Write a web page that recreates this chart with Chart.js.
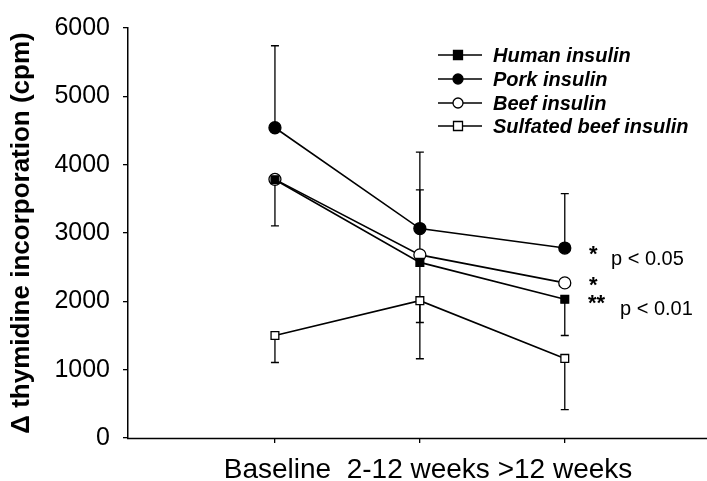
<!DOCTYPE html>
<html>
<head>
<meta charset="utf-8">
<script src="https://cdn.jsdelivr.net/npm/chart.js@4.4.1/dist/chart.umd.min.js"></script>
<style>
  html, body { margin: 0; padding: 0; background: #fff; overflow: hidden; }
  #wrap { width: 707px; height: 481px; position: relative; }
</style>
</head>
<body>
<div id="wrap"><canvas id="chart"></canvas></div>
<script>
// periods on the x axis (linear positions 1..3)
const periods = ["Baseline", "2-12 weeks", ">12 weeks"];
const periodX = [1, 2, 3];
const yTicks = [0, 1000, 2000, 3000, 4000, 5000, 6000];

const seriesNames = ["Human insulin", "Pork insulin", "Beef insulin", "Sulfated beef insulin"];
const human = [3780, 2570, 2030];
const pork = [4540, 3065, 2780];
const beef = [3785, 2680, 2270];
const sulfated = [1500, 2010, 1165];

// error bar lengths (up / down)
const humanErrUp = [0, 0, 0];
const humanErrDown = [0, 1410, 530];
const porkErrUp = [1200, 1120, 795];
const porkErrDown = [0, 0, 0];
const beefErrUp = [0, 950, 0];
const beefErrDown = [680, 0, 0];
const sulfErrUp = [0, 0, 0];
const sulfErrDown = [395, 320, 750];

const FONT = "'Liberation Sans', Arial, sans-serif";

function toPoints(vals) {
    return vals.map((v, i) => ({ x: periodX[i], y: v }));
}

function makeSet(label, vals, style, fill, up, down) {
    return {
        label,
        data: toPoints(vals),
        borderColor: "#000",
        borderWidth: 1.6,
        pointStyle: style,
        pointRadius: style === "rect" ? 5.5 : 6,
        pointBackgroundColor: fill,
        pointBorderColor: "#000",
        pointBorderWidth: 1.3,
        fill: false,
        tension: 0,
        errUp: up,
        errDown: down
    };
}

// error bars drawn behind the markers
const errorBars = {
    id: "errorBars",
    beforeDatasetsDraw(chart) {
        const ctx = chart.ctx;
        const ys = chart.scales.y;
        ctx.save();
        ctx.strokeStyle = "#000";
        ctx.lineWidth = 1.3;
        chart.data.datasets.forEach((ds, di) => {
            const meta = chart.getDatasetMeta(di);
            meta.data.forEach((pt, i) => {
                const v = ds.data[i].y;
                [[ds.errUp[i], 1], [ds.errDown[i], -1]].forEach(([e, dir]) => {
                    if (!e) return;
                    const yEnd = ys.getPixelForValue(v + dir * e);
                    ctx.beginPath();
                    ctx.moveTo(pt.x, pt.y);
                    ctx.lineTo(pt.x, yEnd);
                    ctx.moveTo(pt.x - 4, yEnd);
                    ctx.lineTo(pt.x + 4, yEnd);
                    ctx.stroke();
                });
            });
        });
        ctx.restore();
    }
};

// legend with line + marker, x label and the significance notes
const extras = {
    id: "extras",
    afterDraw(chart) {
        const ctx = chart.ctx;
        const area = chart.chartArea;
        ctx.save();

        // x axis line, running on to the right edge of the figure
        const yAxis = Math.round(area.bottom) + 0.5;
        ctx.strokeStyle = "#000";
        ctx.lineWidth = 1.5;
        ctx.beginPath();
        ctx.moveTo(area.left - 1, yAxis);
        ctx.lineTo(chart.width, yAxis);
        ctx.stroke();

        const rowY = [55, 79, 103, 126];
        chart.data.datasets.forEach((ds, i) => {
            const y = rowY[i];
            ctx.strokeStyle = "#000";
            ctx.lineWidth = 1.6;
            ctx.beginPath();
            ctx.moveTo(438, y);
            ctx.lineTo(482, y);
            ctx.stroke();
            ctx.fillStyle = ds.pointBackgroundColor;
            ctx.lineWidth = 1.3;
            ctx.beginPath();
            if (ds.pointStyle === "rect") {
                ctx.rect(458 - 4.5, y - 4.5, 9, 9);
            } else {
                ctx.arc(458, y, 5, 0, Math.PI * 2);
            }
            ctx.fill();
            ctx.stroke();
            ctx.fillStyle = "#000";
            ctx.font = "italic bold 20px " + FONT;
            ctx.textBaseline = "middle";
            ctx.textAlign = "left";
            ctx.fillText(ds.label, 493, y + 1);
        });

        ctx.fillStyle = "#000";
        ctx.textBaseline = "alphabetic";
        ctx.textAlign = "center";
        ctx.font = "28px " + FONT;
        ctx.fillText(periods[0] + "  " + periods[1] + " " + periods[2], 428, 478);

        ctx.textAlign = "left";
        ctx.font = "bold 22px " + FONT;
        ctx.fillText("*", 589, 261);
        ctx.fillText("*", 589, 292);
        ctx.fillText("**", 588, 310);
        ctx.font = "20px " + FONT;
        ctx.textBaseline = "middle";
        ctx.fillText("p < 0.05", 611, 259);
        ctx.fillText("p < 0.01", 620, 309);
        ctx.restore();
    }
};

new Chart(document.getElementById("chart"), {
    type: "line",
    data: {
        datasets: [
            makeSet(seriesNames[0], human, "rect", "#000", humanErrUp, humanErrDown),
            makeSet(seriesNames[1], pork, "circle", "#000", porkErrUp, porkErrDown),
            makeSet(seriesNames[2], beef, "circle", "#fff", beefErrUp, beefErrDown),
            makeSet(seriesNames[3], sulfated, "rect", "#fff", sulfErrUp, sulfErrDown)
        ]
    },
    options: {
        responsive: true,
        maintainAspectRatio: false,
        animation: false,
        layout: { padding: { top: 26, right: 0, left: 0, bottom: 0 } },
        plugins: {
            legend: { display: false },
            tooltip: { enabled: false }
        },
        scales: {
            x: {
                type: "linear",
                min: -0.014,
                max: 3.931,
                afterBuildTicks: s => { s.ticks = periodX.map(v => ({ value: v })); },
                afterFit: s => { s.height = 43; },
                ticks: { display: false },
                grid: { display: true, drawOnChartArea: false, tickLength: 5, color: "#000", lineWidth: 1.3 },
                border: { display: false }
            },
            y: {
                min: 0,
                max: 6000,
                afterBuildTicks: s => { s.ticks = yTicks.map(v => ({ value: v })); },
                afterFit: s => { s.width = 128; },
                ticks: {
                    color: "#000",
                    font: { family: FONT, size: 25 },
                    padding: 13,
                    callback: v => String(v)
                },
                grid: { display: true, drawOnChartArea: false, tickLength: 5, color: "#000", lineWidth: 1.3 },
                border: { display: true, color: "#000", width: 1.5 },
                title: {
                    display: true,
                    text: "\u0394 thymidine incorporation (cpm)",
                    color: "#000",
                    font: { family: FONT, size: 26, weight: "bold" },
                    padding: { top: 6, bottom: 0 }
                }
            }
        }
    },
    plugins: [errorBars, extras]
});
</script>
</body>
</html>
